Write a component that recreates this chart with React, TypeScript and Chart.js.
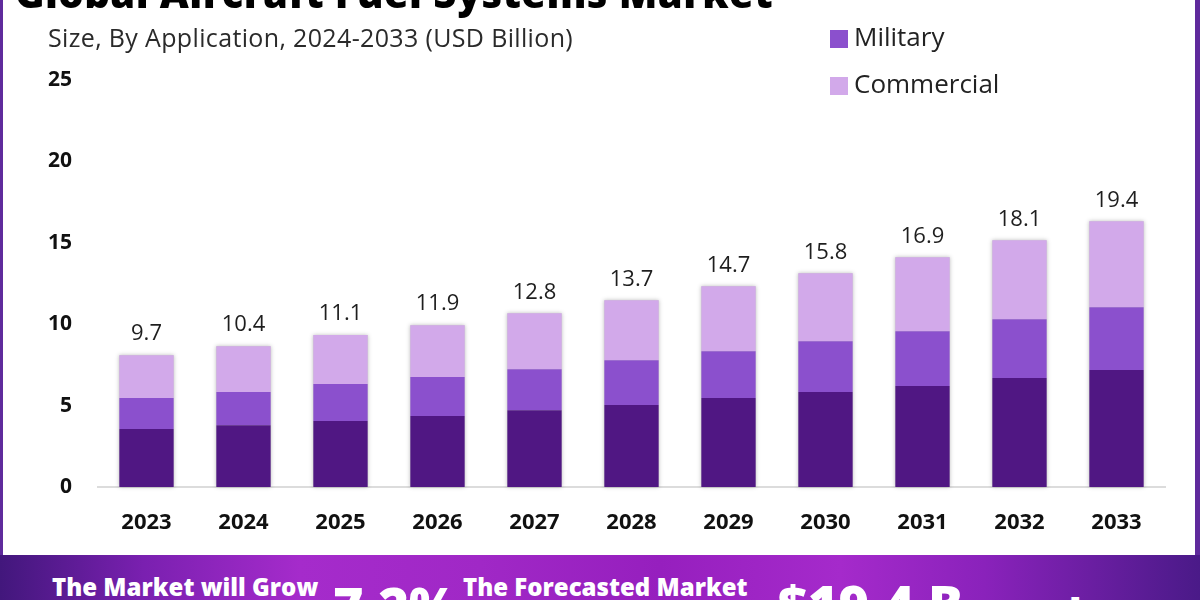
import React, { useEffect, useRef } from "react";
import { Chart, registerables } from "chart.js";

Chart.register(...registerables);

// ---------- data ----------
const years = ["2023", "2024", "2025", "2026", "2027", "2028", "2029", "2030", "2031", "2032", "2033"];
const totalLabels = ["9.7", "10.4", "11.1", "11.9", "12.8", "13.7", "14.7", "15.8", "16.9", "18.1", "19.4"];
const otherValues = [3.56, 3.8, 4.05, 4.36, 4.72, 5.03, 5.46, 5.83, 6.2, 6.69, 7.18];
const militaryValues = [1.9, 2.03, 2.27, 2.39, 2.52, 2.76, 2.88, 3.13, 3.37, 3.62, 3.86];
const commercialValues = [2.64, 2.82, 3.01, 3.19, 3.43, 3.68, 3.99, 4.17, 4.54, 4.84, 5.28];
const legendSeries = ["Military", "Commercial"];

const FONT = "'Open Sans', 'Noto Sans', sans-serif";
const C_OTHER = "#501783";
const C_MIL = "#8b50cd";
const C_COM = "#d2a9ea";

const valueLabelPlugin = {
  id: "valueLabels",
  afterDatasetsDraw(chart: any) {
    const ctx = chart.ctx;
    const meta = chart.getDatasetMeta(chart.data.datasets.length - 1);
    ctx.save();
    ctx.font = `400 22px ${FONT}`;
    ctx.fillStyle = "#1e1e1e";
    ctx.textAlign = "center";
    ctx.textBaseline = "middle";
    meta.data.forEach((el: any, i: number) => {
      ctx.fillText(totalLabels[i], el.x, el.y - 21);
    });
    ctx.restore();
  },
};

const legendPlugin = {
  id: "sideLegend",
  afterDraw(chart: any) {
    const ctx = chart.ctx;
    ctx.save();
    ctx.font = `400 26px ${FONT}`;
    ctx.textAlign = "left";
    ctx.textBaseline = "middle";
    const rows = [39, 86];
    legendSeries.forEach((name, i) => {
      const ds = chart.data.datasets.find((d: any) => d.label === name);
      ctx.fillStyle = ds.backgroundColor;
      ctx.fillRect(830, rows[i] - 9, 18, 18);
      ctx.fillStyle = "#222";
      ctx.fillText(name, 854, rows[i]);
    });
    ctx.restore();
  },
};

const barShadowPlugin = {
  id: "barShadow",
  beforeDatasetsDraw(chart: any) {
    const ctx = chart.ctx;
    const first = chart.getDatasetMeta(0);
    const last = chart.getDatasetMeta(chart.data.datasets.length - 1);
    ctx.save();
    ctx.shadowColor = "rgba(0,0,0,0.25)";
    ctx.shadowBlur = 4;
    ctx.fillStyle = "#c9c9c9";
    first.data.forEach((el: any, i: number) => {
      const top = last.data[i];
      const w = el.width;
      ctx.fillRect(el.x - w / 2, top.y, w, el.base - top.y);
    });
    ctx.restore();
  },
};

function BarChart() {
  const ref = useRef<HTMLCanvasElement | null>(null);
  useEffect(() => {
    if (!ref.current) return;
    const chart = new Chart(ref.current, {
      type: "bar",
      data: {
        labels: years,
        datasets: [
          { label: "Others", data: otherValues, backgroundColor: C_OTHER },
          { label: "Military", data: militaryValues, backgroundColor: C_MIL },
          { label: "Commercial", data: commercialValues, backgroundColor: C_COM },
        ],
      },
      options: {
        responsive: false,
        animation: false,
        layout: { padding: { top: 80, right: 35, left: 0, bottom: 0 } },
        datasets: { bar: { categoryPercentage: 1, barPercentage: 0.56 } },
        plugins: { legend: { display: false }, tooltip: { enabled: false } },
        scales: {
          x: {
            stacked: true,
            grid: { display: false, drawTicks: false },
            border: { display: true, color: "#dcdcdc", width: 2 },
            ticks: { color: "#111", font: { family: FONT, size: 22, weight: "bold" }, padding: 23 },
            afterFit: (s: any) => {
              s.height = 68;
            },
          },
          y: {
            stacked: true,
            min: 0,
            max: 25,
            grid: { display: false, drawTicks: false },
            border: { display: false },
            ticks: { stepSize: 5, color: "#111", font: { family: FONT, size: 21, weight: "bold" }, padding: 26 },
            afterFit: (s: any) => {
              s.width = 98;
            },
          },
        },
      },
      plugins: [barShadowPlugin, valueLabelPlugin, legendPlugin],
    } as any);
    return () => chart.destroy();
  }, []);
  return <canvas ref={ref} width={1200} height={555} style={{ position: "absolute", left: 0, top: 0 }} />;
}

const bannerSmall: React.CSSProperties = {
  position: "absolute",
  color: "#fff",
  fontFamily: FONT,
  fontWeight: 800,
  fontSize: 24,
  lineHeight: "30px",
  whiteSpace: "nowrap",
};
const bannerBig: React.CSSProperties = {
  position: "absolute",
  color: "#fff",
  fontFamily: FONT,
  fontWeight: 800,
  fontSize: 52,
  lineHeight: "60px",
  whiteSpace: "nowrap",
};

export default function App() {
  return (
    <div
      style={{
        position: "fixed",
        left: 0,
        top: 0,
        width: 1200,
        height: 600,
        overflow: "hidden",
        background: "#fff",
      }}
    >
      <BarChart />
      <div
        style={{
          position: "absolute",
          left: 15,
          top: -29,
          fontFamily: FONT,
          fontWeight: 800,
          fontSize: 40,
          letterSpacing: 0.4,
          lineHeight: "44px",
          color: "#000",
          whiteSpace: "nowrap",
        }}
      >
        Global Aircraft Fuel Systems Market
      </div>
      <div
        style={{
          position: "absolute",
          left: 48,
          top: 22,
          fontFamily: FONT,
          fontSize: 25,
          letterSpacing: 0.35,
          lineHeight: "30px",
          color: "#2a2a2a",
          whiteSpace: "nowrap",
        }}
      >
        Size, By Application, 2024-2033 (USD Billion)
      </div>
      <div style={{ position: "absolute", left: 0, top: 0, width: 3, height: 555, background: "#5f2a9c" }} />
      <div style={{ position: "absolute", left: 1195, top: 0, width: 5, height: 555, background: "#5f2a9c" }} />
      <div
        style={{
          position: "absolute",
          left: 0,
          top: 555,
          width: 1200,
          height: 45,
          background:
            "linear-gradient(90deg, #42177c 0%, #7a20b0 12%, #a52bcb 25%, #a028c6 40%, #961fbe 55%, #a52acb 70%, #8a22bb 82%, #4a1a88 100%)",
        }}
      >
        <div style={{ ...bannerSmall, left: 52, top: 17 }}>The Market will Grow</div>
        <div style={{ ...bannerBig, left: 333, top: 20 }}>7.2%</div>
        <div style={{ ...bannerSmall, left: 463, top: 17 }}>The Forecasted Market</div>
        <div style={{ ...bannerBig, left: 778, top: 18 }}>$19.4 B</div>
        <div style={{ ...bannerBig, left: 985, top: 28, fontSize: 40 }}>market.us</div>
      </div>
    </div>
  );
}
